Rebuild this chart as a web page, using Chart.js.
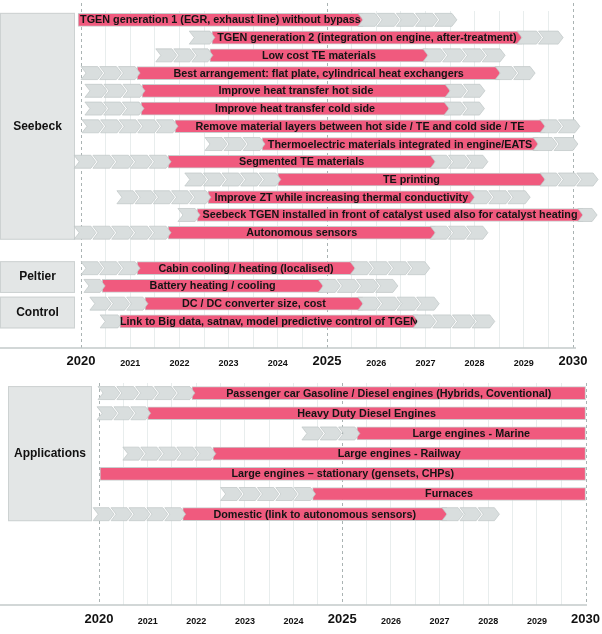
<!DOCTYPE html>
<html>
<head>
<meta charset="utf-8">
<script src="https://cdn.jsdelivr.net/npm/chart.js@4.4.1/dist/chart.umd.min.js"></script>
<style>
  html, body { margin: 0; padding: 0; background: #fff; }
  .panel { position: relative; width: 602px; }
  #top { height: 375px; }
  #bottom { height: 259px; }
</style>
</head>
<body>
<div class="panel" id="top"><canvas id="topChart"></canvas></div>
<div class="panel" id="bottom"><canvas id="bottomChart"></canvas></div>
<script>
// time axis
const years = [2020, 2021, 2022, 2023, 2024, 2025, 2026, 2027, 2028, 2029, 2030];
const majorYears = [2020, 2025, 2030];

// upper roadmap (technologies)
const topGroups = ['Seebeck', 'Peltier', 'Control'];
const topGroupSizes = [13, 2, 2];
const topTasks = [
    'TGEN generation 1 (EGR, exhaust line) without bypass',
    'TGEN generation 2 (integration on engine, after-treatment)',
    'Low cost TE materials',
    'Best arrangement: flat plate, cylindrical heat exchangers',
    'Improve heat transfer hot side',
    'Improve heat transfer cold side',
    'Remove material layers between hot side / TE and cold side / TE',
    'Thermoelectric materials integrated in engine/EATS',
    'Segmented TE materials',
    'TE printing',
    'Improve ZT while increasing thermal conductivity',
    'Seebeck TGEN installed in front of catalyst used also for catalyst heating',
    'Autonomous sensors',
    'Cabin cooling / heating (localised)',
    'Battery heating / cooling',
    'DC / DC converter size, cost',
    'Link to Big data, satnav, model predictive control of TGEN'
];
const topLeadFrom = [null, 2022.2, 2021.52, 2020.0, 2020.08, 2020.08, 2020.02, 2022.52, 2019.86, 2022.11, 2020.73, 2021.97, 2019.86,
    2020.0, 2020.06, 2020.18, 2020.39];
const topBarFrom = [2019.94, 2022.66, 2022.62, 2021.14, 2021.24, 2021.22, 2021.91, 2023.68, 2021.77, 2024.0, 2022.58, 2022.36, 2021.77,
    2021.14, 2020.43, 2021.3, 2020.79];
const topBarTo = [2025.73, 2028.96, 2027.05, 2028.52, 2027.5, 2027.48, 2029.43, 2029.29, 2027.2, 2029.43, 2028.0, 2030.2, 2027.2,
    2025.57, 2024.92, 2025.73, 2026.85];
const topTrailTo = [2027.64, 2029.8, 2028.62, 2029.23, 2028.21, 2028.2, 2030.14, 2030.1, 2028.27, 2030.51, 2029.13, 2030.49, 2028.27,
    2027.09, 2026.44, 2027.28, 2028.41];

// lower roadmap (applications)
const bottomGroups = ['Applications'];
const bottomGroupSizes = [7];
const bottomTasks = [
    'Passenger car Gasoline / Diesel engines (Hybrids, Coventional)',
    'Heavy Duty Diesel Engines',
    'Large engines - Marine',
    'Large engines - Railway',
    'Large engines \u2013 stationary (gensets, CHPs)',
    'Furnaces',
    'Domestic (link to autonomous sensors)'
];
const bottomLeadFrom = [2019.98, 2019.96, 2024.17, 2020.49, null, 2022.5, 2019.88];
const bottomBarFrom = [2021.91, 2021.0, 2025.3, 2022.34, 2020.02, 2024.39, 2021.72];
const bottomBarTo = [2030, 2030, 2030, 2030, 2030, 2030, 2027.15];
const bottomTrailTo = [null, null, null, null, null, null, 2028.23];

const FONT = '"Liberation Sans", Arial, Helvetica, sans-serif';
const PINK = '#f05a7e';
const BAR_H = 13;
const TIP = 5;
const GAP = 2;
Chart.defaults.font.family = FONT;

function buildRows(groups, sizes, gaps, tasks, leadFrom, barFrom, barTo, trailTo) {
    const labels = [], bars = [], rows = [], boxes = [];
    let t = 0;
    groups.forEach((name, g) => {
        const first = labels.length;
        for (let k = 0; k < sizes[g]; k++, t++) {
            rows.push({slot: labels.length, task: tasks[t], lead: leadFrom[t], from: barFrom[t], to: barTo[t], trail: trailTo[t]});
            labels.push(tasks[t]);
            bars.push([barFrom[t], barTo[t]]);
        }
        boxes.push({name, first, last: labels.length - 1});
        for (let k = 0; k < gaps[g]; k++) {
            labels.push('');
            bars.push(null);
        }
    });
    return {labels, bars, rows, boxes};
}

// run of grey chevrons, start = left corner of first one, end = tip of last one
function chevronRun(ctx, start, end, yc, h) {
    const n = Math.max(1, Math.round((end - start - TIP) / 18.5));
    const p = (end - start - TIP + GAP) / n;
    const top = yc - h / 2, bot = yc + h / 2;
    ctx.fillStyle = '#d9dede';
    ctx.strokeStyle = '#bfc6c6';
    ctx.lineWidth = 0.7;
    for (let k = 0; k < n; k++) {
        const a = start + k * p;
        const b = a + p - GAP;
        ctx.beginPath();
        ctx.moveTo(a, top);
        ctx.lineTo(b, top);
        ctx.lineTo(b + TIP, yc);
        ctx.lineTo(b, bot);
        ctx.lineTo(a, bot);
        ctx.lineTo(a + TIP, yc);
        ctx.closePath();
        ctx.fill();
        ctx.stroke();
    }
}

function roadmapPlugin(d, o) {
    return {
        id: 'roadmap',
        beforeDatasetsDraw(chart) {
            const {ctx, chartArea, scales: {x, y}} = chart;
            ctx.save();
            d.boxes.forEach(b => {
                const y0 = y.getPixelForValue(b.first) - 7;
                const y1 = y.getPixelForValue(b.last) + 7;
                const x0 = o.boxLeft, x1 = chartArea.left - o.boxGap;
                ctx.fillStyle = '#e3e6e6';
                ctx.strokeStyle = '#cdd2d2';
                ctx.lineWidth = 1;
                ctx.fillRect(x0, y0, x1 - x0, y1 - y0);
                ctx.strokeRect(x0 + 0.5, y0 + 0.5, x1 - x0 - 1, y1 - y0 - 1);
                ctx.fillStyle = '#111';
                ctx.font = 'bold 12px ' + FONT;
                ctx.textAlign = 'center';
                ctx.textBaseline = 'middle';
                ctx.fillText(b.name, (x0 + x1) / 2, (y0 + y1) / 2);
            });
            ctx.setLineDash([3, 3]);
            ctx.strokeStyle = '#aab3b3';
            ctx.lineWidth = 1;
            majorYears.forEach(v => {
                const px = Math.round(x.getPixelForValue(v)) + 0.5;
                ctx.beginPath();
                ctx.moveTo(px, chartArea.top - o.dashExtra);
                ctx.lineTo(px, chartArea.bottom);
                ctx.stroke();
            });
            ctx.restore();
        },
        afterDatasetsDraw(chart) {
            const {ctx, scales: {x, y}} = chart;
            ctx.save();
            d.rows.forEach(r => {
                const yc = y.getPixelForValue(r.slot);
                const x0 = x.getPixelForValue(r.from);
                const x1 = x.getPixelForValue(r.to);
                if (r.lead != null) chevronRun(ctx, x.getPixelForValue(r.lead), x0 + 3, yc, BAR_H);
                ctx.fillStyle = '#141414';
                ctx.font = 'bold 10.8px ' + FONT;
                ctx.textAlign = 'center';
                ctx.textBaseline = 'middle';
                ctx.fillText(r.task, (x0 + x1) / 2, yc + 0.5);
                if (r.trail != null) chevronRun(ctx, x1 - TIP, x.getPixelForValue(r.trail), yc, BAR_H);
            });
            ctx.restore();
        },
        afterDraw(chart) {
            const {ctx, chartArea} = chart;
            ctx.save();
            ctx.strokeStyle = '#c3caca';
            ctx.lineWidth = 1.5;
            ctx.beginPath();
            ctx.moveTo(0, chartArea.bottom);
            ctx.lineTo(o.axisRight, chartArea.bottom);
            ctx.stroke();
            ctx.restore();
        }
    };
}

function makeChart(id, d, o) {
    return new Chart(document.getElementById(id), {
        type: 'bar',
        data: {
            labels: d.labels,
            datasets: [{
                data: d.bars,
                backgroundColor: PINK,
                borderColor: '#c9cece',
                borderWidth: 1,
                borderSkipped: false,
                barThickness: BAR_H,
                clip: false
            }]
        },
        options: {
            indexAxis: 'y',
            responsive: true,
            maintainAspectRatio: false,
            animation: false,
            layout: {padding: {left: o.left, right: o.right, top: o.top, bottom: 0}},
            scales: {
                x: {
                    type: 'linear',
                    min: years[0],
                    max: years[years.length - 1],
                    afterFit: s => { s.height = o.axisHeight; },
                    border: {display: false},
                    grid: {
                        drawTicks: true,
                        tickLength: o.tickDrop,
                        tickColor: 'rgba(0,0,0,0)',
                        color: c => majorYears.includes(c.tick && c.tick.value) ? 'rgba(0,0,0,0)' : '#e8eded'
                    },
                    ticks: {
                        stepSize: 0.5,
                        autoSkip: false,
                        maxRotation: 0,
                        padding: 2,
                        crossAlign: 'center',
                        color: '#111',
                        callback: v => years.includes(v) ? String(v) : '',
                        font: c => ({
                            family: FONT,
                            weight: 'bold',
                            size: c.tick && majorYears.includes(c.tick.value) ? 13 : 9
                        })
                    }
                },
                y: {display: false}
            },
            plugins: {legend: {display: false}, tooltip: {enabled: false}}
        },
        plugins: [roadmapPlugin(d, o)]
    });
}

const topData = buildRows(topGroups, topGroupSizes, [1, 0, 1], topTasks, topLeadFrom, topBarFrom, topBarTo, topTrailTo);
const bottomData = buildRows(bottomGroups, bottomGroupSizes, [4], bottomTasks, bottomLeadFrom, bottomBarFrom, bottomBarTo, bottomTrailTo);

makeChart('topChart', topData, {left: 81, right: 29, top: 11, axisHeight: 27, tickDrop: 11, boxLeft: 0, boxGap: 6, axisRight: 576, dashExtra: 8});
makeChart('bottomChart', bottomData, {left: 99, right: 16, top: 8, axisHeight: 29, tickDrop: 12, boxLeft: 8, boxGap: 7, axisRight: 587, dashExtra: 0});
</script>
</body>
</html>
